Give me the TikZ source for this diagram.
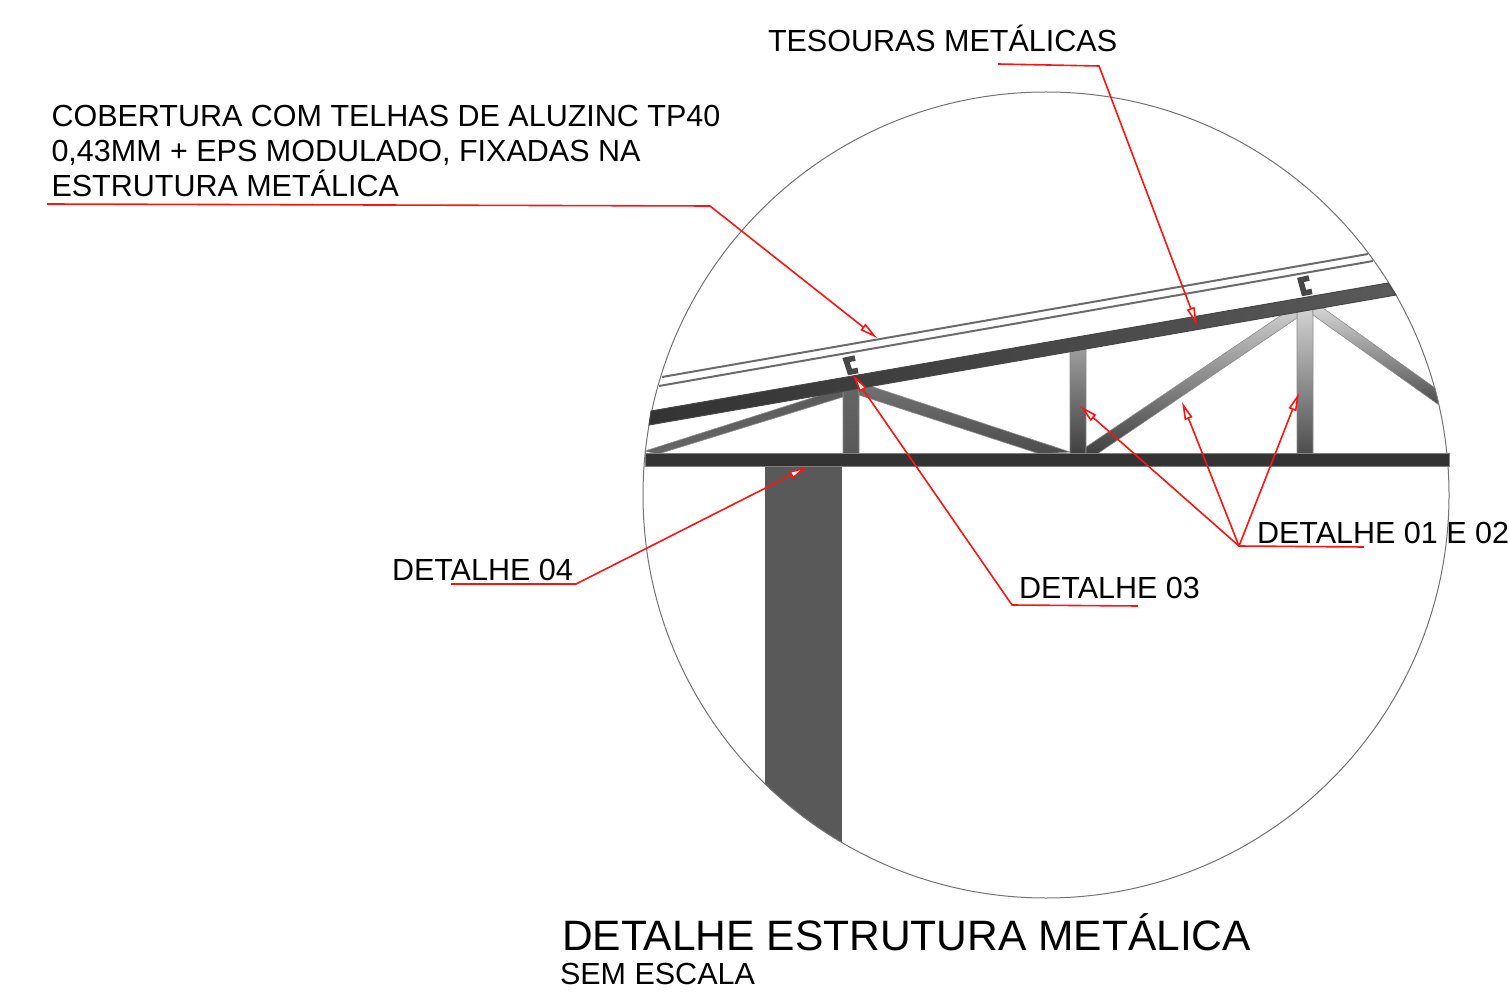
\documentclass[tikz,border=0pt]{standalone}
\usepackage{fontspec}
\setmainfont{Liberation Sans}
\usetikzlibrary{arrows.meta}
\definecolor{leader}{RGB}{255,20,20}
\tikzset{
  lab/.style={anchor=base west,inner sep=0pt,outer sep=0pt,font=\fontsize{15.25}{17.5}\selectfont,text=black},
  leaderline/.style={draw=leader,line width=0.8pt,line join=miter},
  tipped/.style={leaderline,-{Triangle[open,length=9pt,width=4pt,fill=white]}},
  roofline/.style={draw=black!58,line width=1pt},
  member/.style={draw=black!45,line width=0.3pt},
  purlin/.style={draw=black!72,line width=2.8pt,line join=miter}
}
\begin{document}
\begin{tikzpicture}[x=0.5pt,y=-0.5pt]
\useasboundingbox (0,0) rectangle (1509,994);
% circle
\coordinate (cc) at (1046,495);
\begin{scope}
  \clip (cc) circle[radius=201.5pt];
  \fill[black!65] (765,460) rectangle (842,900);
\end{scope}
\draw[draw=black!55,line width=0.5pt] (cc) circle[radius=201.5pt];
% roof sheets
\draw[roofline] (662,377) -- (1368,254);
\draw[roofline] (659,386) -- (1373,261);
% verticals
\shade[member,top color=black!60,bottom color=black!65] (843,386) -- (859,384) -- (859,454) -- (843,454) -- cycle;
\shade[member,top color=black!38,bottom color=black!75] (1070,349) -- (1086,347) -- (1086,454) -- (1070,454) -- cycle;
\shade[member,top color=black!17,bottom color=black!70] (1297,310) -- (1313,308) -- (1313,454) -- (1297,454) -- cycle;
% diagonals
\shade[member,top color=black!65,bottom color=black!60] (645,451) -- (843,388) -- (843,397) -- (658,454) -- cycle;
\shade[member,top color=black!55,bottom color=black!70] (859,384) -- (870,386) -- (1070,452) -- (1040,454) -- (859,395) -- cycle;
\shade[member,top color=black!20,bottom color=black!75] (1283,314) -- (1297,312) -- (1297,318) -- (1097,454) -- (1086,454) -- (1086,447) -- cycle;
\shade[member,top color=black!17,bottom color=black!70] (1313,308) -- (1323,308) -- (1435,388) -- (1439,405) -- (1313,315) -- cycle;
% chords
\shade[draw=black!72,line width=0.5pt,left color=black!80,right color=black!65] (651,411) -- (1388,283) -- (1396,295) -- (649,425) -- cycle;
\fill[black!80,draw=black!50,line width=0.4pt] (645,453) rectangle (1449,466);
% purlins
\draw[purlin] (855,358) -- (846,360) -- (850,372) -- (858,370.5);
\draw[purlin] (1309,278) -- (1300.5,280) -- (1304,293) -- (1312,291.5);
% labels
\node[lab] (tes) at (768,51.5) {TESOURAS METÁLICAS};
\node[lab] (cob1) at (51.5,126.5) {COBERTURA COM TELHAS DE ALUZINC TP40};
\node[lab] (cob2) at (51.5,161.5) {0,43MM + EPS MODULADO, FIXADAS NA};
\node[lab] (cob3) at (51.5,196.5) {ESTRUTURA METÁLICA};
\node[lab] (d04) at (392,580.5) {DETALHE 04};
\node[lab] (d03) at (1019,598.5) {DETALHE 03};
\node[lab] (d01) at (1257,543.5) {DETALHE 01 E 02};
\node[lab,font=\fontsize{21.26}{26}\selectfont] (title) at (562,950) {DETALHE ESTRUTURA METÁLICA};
\node[lab] (sub) at (560,984.5) {SEM ESCALA};
% leader coordinates
\coordinate (t0) at (998,64); \coordinate (t1) at (1099,66); \coordinate (t2) at (1197,325);
\coordinate (c0) at (47,204); \coordinate (c1) at (710,206); \coordinate (c2) at (877,338);
\coordinate (a0) at (451,584); \coordinate (a1) at (576,584); \coordinate (a2) at (807,467);
\coordinate (b0) at (1138,606); \coordinate (b1) at (1012,605); \coordinate (b2) at (853,375);
\coordinate (e0) at (1364,547); \coordinate (e1) at (1239,546);
\coordinate (e2) at (1080,406); \coordinate (e3) at (1182,402); \coordinate (e4) at (1299,393);
% leaders
\draw[tipped] (t0) -- (t1) -- (t2);
\draw[tipped] (c0) -- (c1) -- (c2);
\draw[tipped] (a0) -- (a1) -- (a2);
\draw[tipped] (b0) -- (b1) -- (b2);
\draw[tipped] (e0) -- (e1) -- (e2);
\draw[tipped] (e1) -- (e3);
\draw[tipped] (e1) -- (e4);
\end{tikzpicture}
\end{document}
